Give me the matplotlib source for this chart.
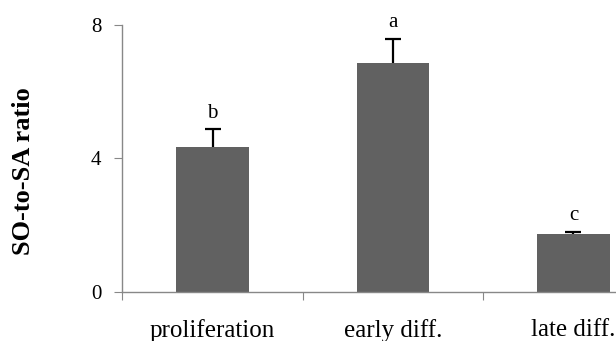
import numpy as np
import matplotlib.pyplot as plt

plt.rcParams['font.family'] = ['Liberation Serif', 'DejaVu Serif']

categories = ['proliferation', 'early diff.', 'late diff.']
ratio = [4.34, 6.85, 1.72]
err_up = [0.53, 0.74, 0.08]
letters = ['b', 'a', 'c']

fig = plt.figure(figsize=(6.16, 3.41), dpi=100)
# axes runs past the right edge of the figure, as in the original (cropped)
ax = fig.add_axes([0.1985, 0.1446, 0.879, 0.782])

x = np.arange(len(categories)) + 0.5
ax.bar(x, ratio, width=0.4, color='#616161', zorder=2)
_, caps, _ = ax.errorbar(x, ratio, yerr=[np.zeros(3), err_up], fmt='none',
                         ecolor='black', elinewidth=1.6, capsize=5.5,
                         capthick=1.6, zorder=3)
caps[0].set_visible(False)  # only the upper cap

for xi, v, e, s in zip(x, ratio, err_up, letters):
    ax.text(xi, v + e + 0.2, s, ha='center', va='bottom', fontsize=15)

ax.set_xlim(0, 3)
ax.set_ylim(0, 8)
ax.set_yticks([0, 4, 8])
ax.set_xticks([0, 1, 2, 3])
ax.set_xticklabels([])
ax.set_xticks(x, minor=True)
ax.set_xticklabels(categories, minor=True)
ax.tick_params(axis='x', which='minor', length=0, pad=20, labelsize=18)
ax.tick_params(axis='x', which='major', length=6, color='#888888')
ax.tick_params(axis='y', length=6, color='#888888', labelsize=15, pad=9)

for side in ['top', 'right']:
    ax.spines[side].set_visible(False)
for side in ['left', 'bottom']:
    ax.spines[side].set_color('#888888')
    ax.spines[side].set_linewidth(1.0)

ax.set_ylabel('SO-to-SA ratio', fontsize=19, fontweight='bold')
ax.yaxis.set_label_coords(-0.161, 0.453)

fig.savefig('out.png', dpi=100)
